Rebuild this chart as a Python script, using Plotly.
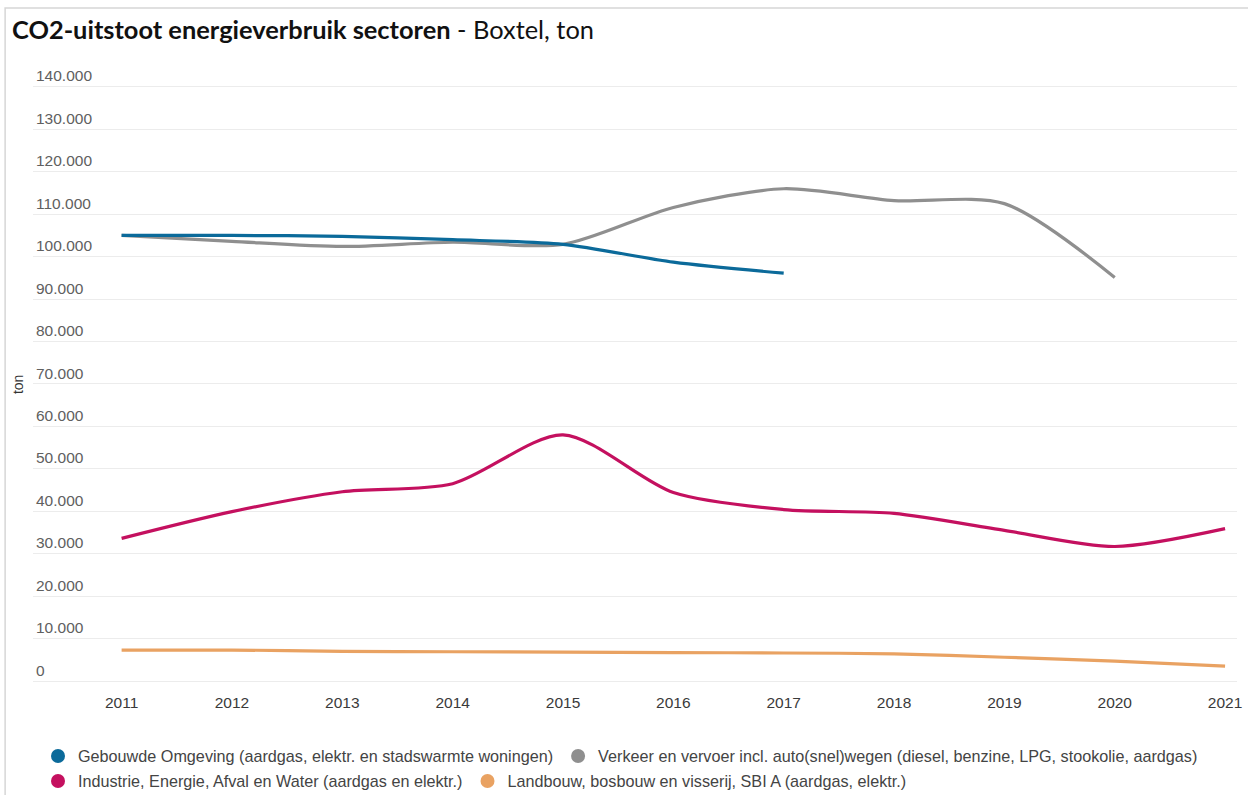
import plotly.graph_objects as go

years = [2011, 2012, 2013, 2014, 2015, 2016, 2017, 2018, 2019, 2020, 2021]

gebouwde = [105000, 105000, 104800, 104000, 102900, 98700, 96100, None, None, None, None]
verkeer = [105000, 103600, 102400, 103400, 102900, 111600, 116000, 113200, 112500, 95100, None]
industrie = [33600, 39900, 44600, 46500, 58000, 44400, 40400, 39500, 35500, 31700, 35900]
landbouw = [7300, 7300, 7000, 6900, 6800, 6700, 6600, 6400, 5600, 4700, 3500]

names = [
    "Gebouwde Omgeving (aardgas, elektr. en stadswarmte woningen)",
    "Verkeer en vervoer incl. auto(snel)wegen (diesel, benzine, LPG, stookolie, aardgas)",
    "Industrie, Energie, Afval en Water (aardgas en elektr.)",
    "Landbouw, bosbouw en visserij, SBI A (aardgas, elektr.)",
]
colors = ["#0b6a9a", "#8f8f8f", "#c4105f", "#e9a262"]
series = [gebouwde, verkeer, industrie, landbouw]

fig = go.Figure()

draw_order = [1, 0, 2, 3]
for i in draw_order:
    fig.add_trace(go.Scatter(
        x=years, y=series[i], mode="lines", name=names[i],
        line=dict(color=colors[i], width=3.2, shape="spline", smoothing=0.8),
        showlegend=False, connectgaps=False,
    ))

legend_of = ["legend", "legend", "legend2", "legend2"]
for i in range(4):
    fig.add_trace(go.Scatter(
        x=[None], y=[None], mode="markers", name=names[i],
        marker=dict(color=colors[i], size=14, symbol="circle"),
        legend=legend_of[i], showlegend=True,
    ))

W, H = 1248, 795
L, R, T, B = 33, 1242, 60, 683
px_per = (683 - 87) / 140000.0
ymax = 140000 + (87 - T) / px_per
ymin = -2 / px_per

legend_font = dict(family="Liberation Sans, Arial", size=16.2, color="#444444")

fig.update_layout(
    width=W, height=H,
    margin=dict(l=L, r=W - R, t=T, b=H - B),
    paper_bgcolor="white", plot_bgcolor="white",
    separators=",.",
    title=dict(
        text="<b>CO2-uitstoot energieverbruik sectoren</b> - Boxtel, ton",
        x=12 / W, xanchor="left", xref="container",
        y=1 - 30 / H, yanchor="middle", yref="container",
        font=dict(family="Lato, Open Sans", size=25.4, color="#111111"),
    ),
    xaxis=dict(
        range=[2010.197, 2021.108],
        tickvals=years, ticktext=[str(y) for y in years],
        showgrid=False, zeroline=False, showline=False,
        tickfont=dict(family="Liberation Sans, Arial", size=15.5, color="#3a3a3a"),
        ticks="", ticklabelstandoff=8,
    ),
    yaxis=dict(
        range=[ymin, ymax],
        tickvals=list(range(0, 140001, 10000)),
        tickformat=",.0f",
        ticklabelposition="inside top",
        tickfont=dict(family="Liberation Sans, Arial", size=15.5, color="#606060"),
        showgrid=True, gridcolor="#ececec", gridwidth=1,
        zeroline=False, showline=False, ticks="",
    ),
    legend=dict(
        orientation="h", xref="container", yref="container",
        x=38 / W, xanchor="left", y=1 - 739 / H, yanchor="top",
        font=legend_font, itemwidth=30, bgcolor="rgba(0,0,0,0)",
    ),
    legend2=dict(
        orientation="h", xref="container", yref="container",
        x=38 / W, xanchor="left", y=1 - 764 / H, yanchor="top",
        font=legend_font, itemwidth=30, bgcolor="rgba(0,0,0,0)",
    ),
    annotations=[dict(
        text="ton", textangle=-90, xref="paper", yref="paper",
        x=(18 - L) / (R - L), y=(B - 385) / (B - T), xanchor="center", yanchor="middle",
        showarrow=False, font=dict(family="Liberation Sans, Arial", size=14, color="#333333"),
    )],
    shapes=[dict(
        type="rect", xref="paper", yref="paper",
        x0=(5 - L) / (R - L), x1=(1260 - L) / (R - L),
        y0=(B - 805) / (B - T), y1=(B - 8) / (B - T),
        line=dict(color="#d6d6d6", width=1.5), fillcolor="rgba(0,0,0,0)", layer="below",
    )],
)

fig.write_html(
    "out.html",
    config={"displayModeBar": False},
    post_script="document.body.style.margin='0';document.body.style.overflow='hidden';",
)
